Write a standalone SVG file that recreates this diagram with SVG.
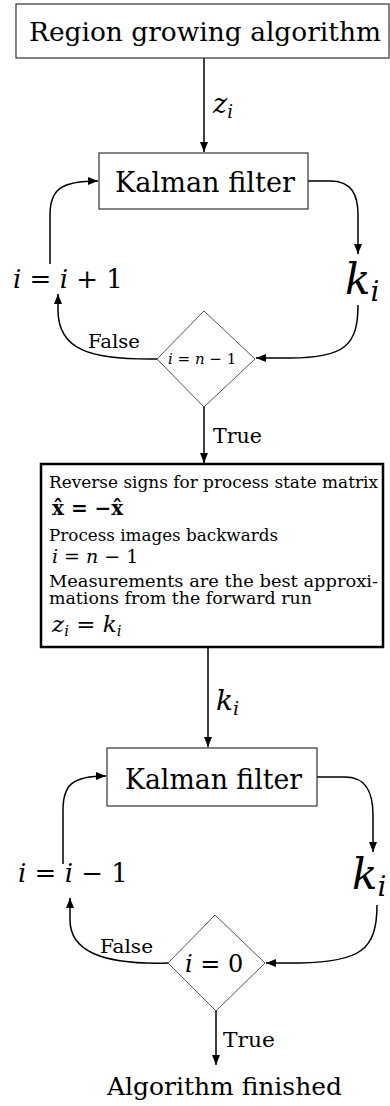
<svg xmlns="http://www.w3.org/2000/svg" width="390" height="1106" viewBox="0 0 390 1106">
<style>
text{font-family:'DejaVu Serif','Liberation Serif',serif;fill:#000}
.it{font-style:italic}
.box{fill:#fff;stroke:#333;stroke-width:1.2}
.big{fill:#fff;stroke:#000;stroke-width:2.5}
.dia{fill:#fff;stroke:#555;stroke-width:1}
.con{fill:none;stroke:#000;stroke-width:1.5}
</style>
<defs>
<marker id="ah" markerUnits="userSpaceOnUse" markerWidth="10" markerHeight="10" viewBox="0 0 10 10" refX="10" refY="5" orient="auto">
<path d="M0,1 L10,5 L0,9 Z" fill="#000"/>
</marker>
</defs>
<rect width="390" height="1106" fill="#fff"/>

<g id="connectors">
<path class="con" d="M204,58 V152" marker-end="url(#ah)"/>
<path class="con" d="M308,181 H330 C352,181 358,195 358,215 V254" marker-end="url(#ah)"/>
<path class="con" d="M358,305 C358,345 345,358 290,358 L256,358" marker-end="url(#ah)"/>
<path class="con" d="M157,359 C90,360 58,350 58,310 L58,294" marker-end="url(#ah)"/>
<path class="con" d="M50,264 V215 C50,190 60,181 98,181" marker-end="url(#ah)"/>
<path class="con" d="M204,407 V463" marker-end="url(#ah)"/>
<path class="con" d="M208,647 V747" marker-end="url(#ah)"/>
<path class="con" d="M317,777 H345 C368,777 373,795 373,815 V852" marker-end="url(#ah)"/>
<path class="con" d="M377,905 C377,950 360,962 300,963 L266,963" marker-end="url(#ah)"/>
<path class="con" d="M168,963 C100,965 70,950 70,920 L70,898" marker-end="url(#ah)"/>
<path class="con" d="M63,864 V810 C63,785 72,776 106,776" marker-end="url(#ah)"/>
<path class="con" d="M216,1011 V1065" marker-end="url(#ah)"/>
<text x="213" y="113" class="it" font-size="27">z<tspan font-size="18" dy="5">i</tspan></text>
<text x="88" y="348" font-size="19" textLength="52" lengthAdjust="spacingAndGlyphs">False</text>
<text x="213" y="443" font-size="20" textLength="49" lengthAdjust="spacingAndGlyphs">True</text>
<text x="216" y="710" class="it" font-size="28">k<tspan font-size="19" dy="5">i</tspan></text>
<text x="100" y="953" font-size="19" textLength="53" lengthAdjust="spacingAndGlyphs">False</text>
<text x="223" y="1047" font-size="20" textLength="52" lengthAdjust="spacingAndGlyphs">True</text>
</g>

<g id="region">
<rect class="box" x="16" y="4" width="373" height="54"/>
<text x="29" y="41" font-size="26" textLength="352" lengthAdjust="spacingAndGlyphs">Region growing algorithm</text>
</g>

<g id="kalman1">
<rect class="box" x="99" y="153" width="209" height="56"/>
<text x="115" y="192" font-size="27" textLength="180" lengthAdjust="spacingAndGlyphs">Kalman filter</text>
</g>

<g id="ki1">
<text x="345" y="294" class="it" font-size="42">k<tspan font-size="28" dy="7">i</tspan></text>
</g>

<g id="inc">
<text x="13" y="288" font-size="26"><tspan class="it">i</tspan> = <tspan class="it">i</tspan> + 1</text>
</g>

<g id="decision1">
<polygon class="dia" points="204,311 255,359 204,407 157,359"/>
<text x="168" y="364" font-size="15"><tspan class="it">i</tspan> = <tspan class="it">n</tspan> − 1</text>
</g>

<g id="reverse">
<rect class="big" x="41" y="464" width="342" height="183"/>
<text x="49" y="488" font-size="16.5" textLength="329" lengthAdjust="spacingAndGlyphs">Reverse signs for process state matrix</text>
<text x="52" y="515" font-size="20" font-weight="bold">x̂ = −x̂</text>
<text x="49" y="541" font-size="16.5" textLength="229" lengthAdjust="spacingAndGlyphs">Process images backwards</text>
<text x="52" y="563" font-size="19"><tspan class="it">i</tspan> = <tspan class="it">n</tspan> − 1</text>
<text x="49" y="587" font-size="16.5" textLength="329" lengthAdjust="spacingAndGlyphs">Measurements are the best approxi-</text>
<text x="49" y="604" font-size="16.5" textLength="263" lengthAdjust="spacingAndGlyphs">mations from the forward run</text>
<text x="52" y="632" font-size="23"><tspan class="it">z</tspan><tspan class="it" font-size="15" dy="4">i</tspan><tspan dy="-4"> = </tspan><tspan class="it">k</tspan><tspan class="it" font-size="15" dy="4">i</tspan></text>
</g>

<g id="kalman2">
<rect class="box" x="107" y="748" width="210" height="58"/>
<text x="125" y="789" font-size="27" textLength="177" lengthAdjust="spacingAndGlyphs">Kalman filter</text>
</g>

<g id="ki2">
<text x="352" y="889" class="it" font-size="42">k<tspan font-size="28" dy="7">i</tspan></text>
</g>

<g id="dec">
<text x="18" y="882" font-size="26"><tspan class="it">i</tspan> = <tspan class="it">i</tspan> − 1</text>
</g>

<g id="decision2">
<polygon class="dia" points="215,915 265,963 216,1011 168,963"/>
<text x="185" y="972" font-size="24"><tspan class="it">i</tspan> = 0</text>
</g>

<g id="finished">
<text x="107" y="1095" font-size="25" textLength="235" lengthAdjust="spacingAndGlyphs">Algorithm finished</text>
</g>
</svg>
